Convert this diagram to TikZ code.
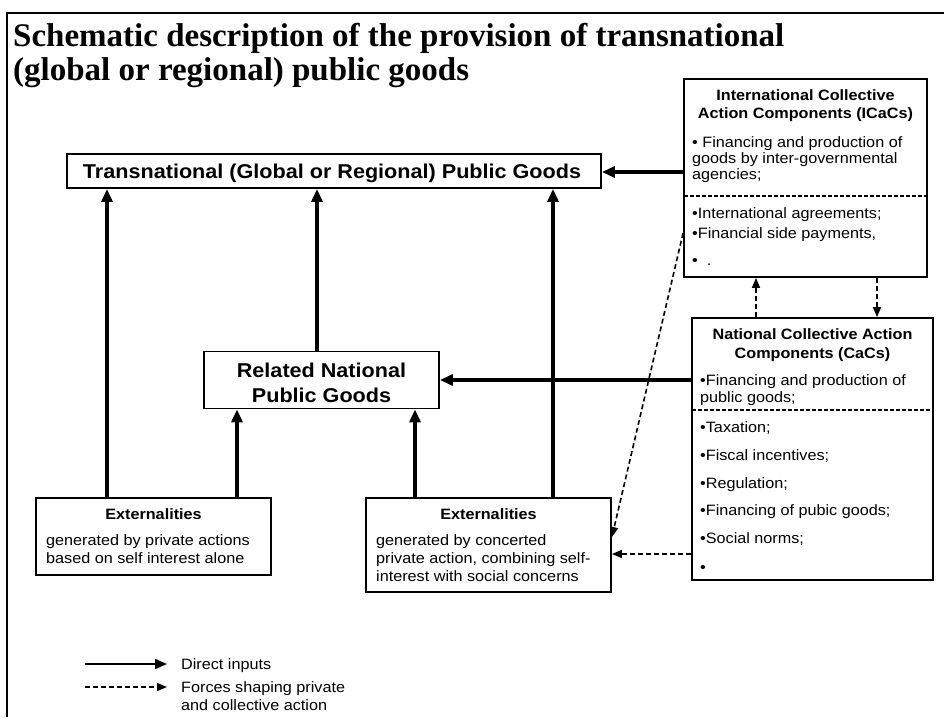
\documentclass[tikz,border=0pt]{standalone}
\usepackage{fontspec}
\setmainfont{Liberation Sans}
\newfontfamily\bodyfont[FakeStretch=1.08]{Liberation Sans}
\newfontfamily\titlefont{Liberation Serif}
\usetikzlibrary{arrows.meta}
\begin{document}
\begin{tikzpicture}[x=1pt,y=-1pt,
  box/.style={draw,line width=1.8pt,inner sep=0,rectangle},
  divider/.style={line width=1.2pt,dash pattern=on 4pt off 2pt},
  txt/.style={inner sep=0,anchor=base west,font=\bodyfont\fontsize{15}{17}\selectfont},
  hd/.style={inner sep=0,anchor=base,font=\bodyfont\bfseries\fontsize{15}{17}\selectfont},
  big/.style={inner sep=0,anchor=base,font=\bodyfont\bfseries\fontsize{20}{24}\selectfont},
  direct/.style={line width=3.2pt,-{Triangle[length=13pt,width=11pt]}},
  force/.style={line width=1.6pt,dash pattern=on 5pt off 3pt,-{Triangle[length=10pt,width=8pt]}},
  frame/.style={line width=1.3pt}
]
\useasboundingbox (0,0) rectangle (944,717);
% outer frame
\coordinate (fa) at (944,13);
\coordinate (fb) at (7,13);
\coordinate (fc) at (7,717);
\draw[frame] (fa) -- (fb) -- (fc);
% title
\node[inner sep=0,anchor=base west,font=\titlefont\bfseries\fontsize{33}{36}\selectfont] (t1) at (13,46) {Schematic description of the provision of transnational};
\node[inner sep=0,anchor=base west,font=\titlefont\bfseries\fontsize{33}{36}\selectfont] (t2) at (13,81) {(global or regional) public goods};

% Transnational box
\node[box,minimum width=534pt,minimum height=34pt] (trans) at (334,171) {};
\node[big] (transT) at (332,178) {Transnational (Global or Regional) Public Goods};

% Related national box
\node[box,minimum width=235pt,minimum height=57pt] (rel) at (321.5,380) {};
\node[big] (relA) at (321.5,377) {Related National};
\node[big] (relB) at (321.5,402) {Public Goods};

% ICaCs box
\node[box,minimum width=243pt,minimum height=198pt] (ic) at (805.5,178) {};
\coordinate (icdl) at (684,196);
\coordinate (icdr) at (927,196);
\draw[divider] (icdl) -- (icdr);
\node[hd] (icH1) at (805.5,100) {International Collective};
\node[hd] (icH2) at (805.5,118) {Action Components (ICaCs)};
\node[txt] (ic1) at (692,147) {• Financing and production of};
\node[txt] (ic2) at (692,163) {goods by inter-governmental};
\node[txt] (ic3) at (692,179) {agencies;};
\node[txt] (ic4) at (692,218) {•International agreements;};
\node[txt] (ic5) at (692,238) {•Financial side payments,};
\node[txt] (ic6) at (692,265) {•\ \ .};

% NaCaCs box
\node[box,minimum width=241pt,minimum height=262pt] (na) at (812.5,449) {};
\coordinate (nadl) at (692,410);
\coordinate (nadr) at (933,410);
\draw[divider] (nadl) -- (nadr);
\node[hd] (naH1) at (812.5,339) {National Collective Action};
\node[hd] (naH2) at (812.5,358) {Components (CaCs)};
\node[txt] (na1) at (700,385) {•Financing and production of};
\node[txt] (na2) at (700,402) {public goods;};
\node[txt] (na3) at (700,432) {•Taxation;};
\node[txt] (na4) at (700,460) {•Fiscal incentives;};
\node[txt] (na5) at (700,488) {•Regulation;};
\node[txt] (na6) at (700,515) {•Financing of pubic goods;};
\node[txt] (na7) at (700,543) {•Social norms;};
\node[txt] (na8) at (700,572) {•};

% Externalities 1
\node[box,minimum width=235pt,minimum height=77pt] (e1) at (153.5,536.5) {};
\node[hd] (e1H) at (153.5,519) {Externalities};
\node[txt] (e1a) at (46,545) {generated by private actions};
\node[txt] (e1b) at (46,563) {based on self interest alone};

% Externalities 2
\node[box,minimum width=245pt,minimum height=94pt] (e2) at (488.5,545) {};
\node[hd] (e2H) at (488.5,519) {Externalities};
\node[txt] (e2a) at (376,545) {generated by concerted};
\node[txt] (e2b) at (376,563) {private action, combining self-};
\node[txt] (e2c) at (376,581) {interest with social concerns};

% direct inputs
\draw[direct] (e1.north -| 107,0) -- (trans.south -| 107,0);
\draw[direct] (e1.north -| 237,0) -- (rel.south -| 237,0);
\draw[direct] (rel.north -| 317,0) -- (trans.south -| 317,0);
\draw[direct] (e2.north -| 415,0) -- (rel.south -| 415,0);
\draw[direct] (e2.north -| 553,0) -- (trans.south -| 553,0);
\draw[direct] (ic.west |- 0,172) -- (trans.east |- 0,172);
\draw[direct] (na.west |- 0,380) -- (rel.east |- 0,380);

% forces
\draw[force] (ic.west |- 0,233) -- (e2.east |- 0,537);
\draw[force] (na.west |- 0,554) -- (e2.east |- 0,554);
\draw[force] (na.north -| 756,0) -- (ic.south -| 756,0);
\draw[force] (ic.south -| 877,0) -- (na.north -| 877,0);

% legend
\coordinate (l1a) at (85,664);
\coordinate (l1b) at (167,664);
\coordinate (l2a) at (85,687);
\coordinate (l2b) at (167,687);
\draw[line width=2pt,-{Triangle[length=12pt,width=10pt]}] (l1a) -- (l1b);
\draw[force] (l2a) -- (l2b);
\node[txt] (lg1) at (181,669) {Direct inputs};
\node[txt] (lg2) at (181,692) {Forces shaping private};
\node[txt] (lg3) at (181,710) {and collective action};
\end{tikzpicture}
\end{document}
